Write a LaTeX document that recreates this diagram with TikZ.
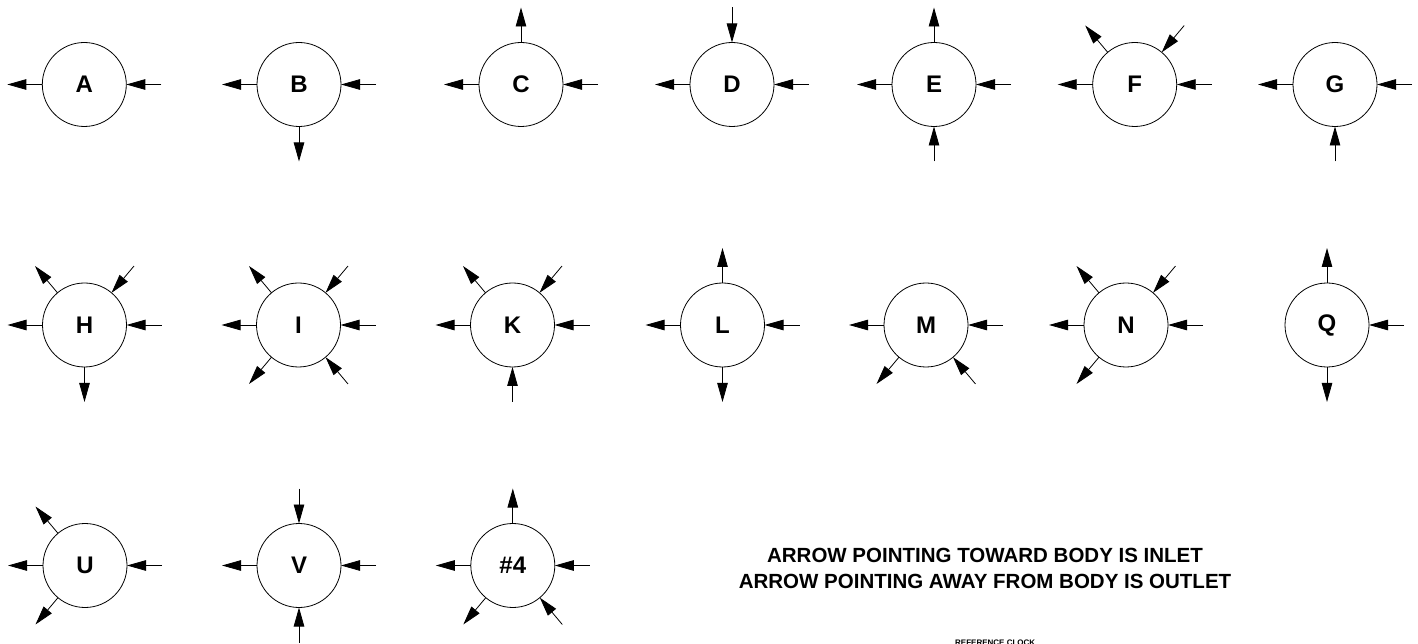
\documentclass[tikz,border=0pt]{standalone}
\usepackage{fontspec}
\setmainfont{Liberation Sans}
\usetikzlibrary{arrows.meta,calc}
\tikzset{
  body/.style={draw, circle, line width=0.8pt, minimum size=84pt, inner sep=0pt, outer sep=0pt,
    font=\fontsize{24}{24}\selectfont\bfseries},
  flow/.style={line width=0.8pt, -{Triangle[length=19pt,width=10.5pt]}},
  legend/.style={align=center, font=\fontsize{20.5}{26}\selectfont\bfseries},
  tiny/.style={anchor=north west, inner sep=0pt, font=\fontsize{8}{8}\selectfont\bfseries}
}
\newcommand{\outl}[2]{\coordinate (#1-#2) at ($(#1.center)+(#2:77pt)$); \draw[flow] (#1.#2) -- (#1-#2);}
\newcommand{\inl}[2]{\coordinate (#1-#2) at ($(#1.center)+(#2:77pt)$); \draw[flow] (#1-#2) -- (#1.#2);}
\begin{document}
\begin{tikzpicture}[x=1pt,y=1pt]
\useasboundingbox (0,0) rectangle (1418,643);
% row 1
\node[body] (A) at (84.3,558.5) {A};
\node[body] (B) at (299,558.5) {B};
\node[body] (C) at (521,558.5) {C};
\node[body] (D) at (732,558.5) {D};
\node[body] (E) at (934,558.5) {E};
\node[body] (F) at (1134.7,558.5) {F};
\node[body] (G) at (1335,558.5) {G};
% row 2
\node[body] (H) at (84.5,318) {H};
\node[body] (I) at (298.5,318) {I};
\node[body] (K) at (512.5,318) {K};
\node[body] (L) at (722.5,318) {L};
\node[body] (M) at (926,318) {M};
\node[body] (N) at (1126,318) {N};
\node[body] (Q) at (1327,318) {Q};
% row 3
\node[body] (U) at (85,77.5) {U};
\node[body] (V) at (299,77.5) {V};
\node[body] (N4) at (512.8,77.5) {\#4};

% A
\outl{A}{180} \inl{A}{0}
% B
\outl{B}{180} \inl{B}{0} \outl{B}{270}
% C
\outl{C}{180} \inl{C}{0} \outl{C}{90}
% D
\outl{D}{180} \inl{D}{0} \inl{D}{90}
% E
\outl{E}{180} \inl{E}{0} \outl{E}{90} \inl{E}{270}
% F
\outl{F}{180} \inl{F}{0} \outl{F}{130} \inl{F}{50}
% G
\outl{G}{180} \inl{G}{0} \inl{G}{270}
% H
\outl{H}{180} \inl{H}{0} \outl{H}{130} \inl{H}{50} \outl{H}{270}
% I
\outl{I}{180} \inl{I}{0} \outl{I}{130} \inl{I}{50} \outl{I}{230} \inl{I}{310}
% K
\outl{K}{180} \inl{K}{0} \outl{K}{130} \inl{K}{50} \inl{K}{270}
% L
\outl{L}{180} \inl{L}{0} \outl{L}{90} \outl{L}{270}
% M
\outl{M}{180} \inl{M}{0} \outl{M}{230} \inl{M}{310}
% N
\outl{N}{180} \inl{N}{0} \outl{N}{130} \inl{N}{50} \outl{N}{230}
% Q
\inl{Q}{0} \outl{Q}{90} \outl{Q}{270}
% U
\outl{U}{180} \inl{U}{0} \outl{U}{130} \outl{U}{230}
% V
\outl{V}{180} \inl{V}{0} \inl{V}{90} \inl{V}{270}
% #4
\outl{N4}{180} \inl{N4}{0} \outl{N4}{90} \outl{N4}{230} \inl{N4}{310}

\node[legend] (legend) at (985,75) {ARROW POINTING TOWARD BODY IS INLET\\ARROW POINTING AWAY FROM BODY IS OUTLET};
\node[tiny] (clock) at (955,3) {REFERENCE CLOCK};
\end{tikzpicture}
\end{document}
